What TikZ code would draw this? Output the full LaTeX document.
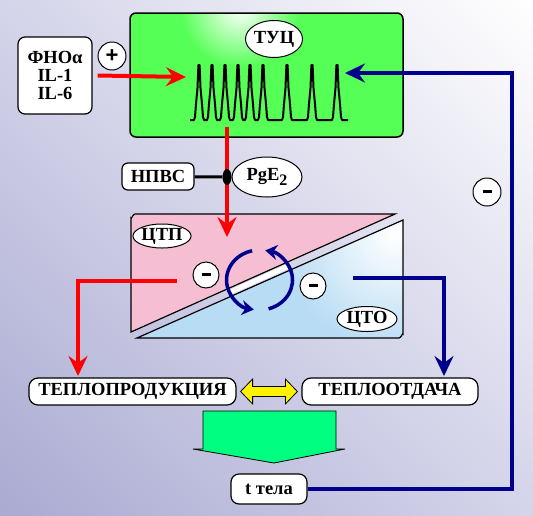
\documentclass[tikz,border=0pt]{standalone}
\usepackage{fontspec}
\setmainfont{Liberation Serif}
\newfontfamily\signfont{Liberation Sans}
\usetikzlibrary{arrows.meta,shapes.geometric,calc,shadings}
\definecolor{bgdark}{RGB}{170,170,210}
\definecolor{bgmid}{RGB}{212,212,234}
\definecolor{tucgreen}{RGB}{85,255,85}
\definecolor{ctppink}{RGB}{246,190,210}
\definecolor{ctoblue}{RGB}{184,220,244}
\definecolor{arrred}{RGB}{255,0,0}
\definecolor{arrblue}{RGB}{0,0,140}
\definecolor{outgreen}{RGB}{0,255,128}
\begin{document}
\begin{tikzpicture}[x=1pt,y=-1pt,
  font=\fontsize{18.5}{18}\selectfont\bfseries,
  lbl/.style={draw, line width=1.2pt, fill=white, rounded corners=7pt, inner sep=0pt, align=center},
  oval/.style={ellipse, draw, line width=1pt, fill=white, inner sep=0pt},
  sgn/.style={circle, draw, line width=1pt, fill=white, inner sep=0pt},
  redarr/.style={draw=arrred, line width=4pt, -{Stealth[length=20pt,width=19pt,inset=7pt]}},
  bluarr/.style={draw=arrblue, line width=4pt, -{Stealth[length=20pt,width=19pt,inset=7pt]}},
  rotarr/.style={draw=arrblue, line width=3.5pt, -{Stealth[length=12pt,width=15pt,inset=4pt]}}]
\useasboundingbox (0,0) rectangle (533,515);
\shade[upper left=bgmid, upper right=white, lower left=bgdark, lower right=bgmid] (0,0) rectangle (533,515);

\begin{scope}
\clip[rounded corners=6pt] (130,13) rectangle (403,137);
\fill[tucgreen] (130,13) rectangle (403,137);
\shade[inner color=white, outer color=tucgreen] (240,8) circle (60pt);
\end{scope}
\draw[line width=1.5pt, rounded corners=6pt] (130,13) rectangle (403,137);
\draw[line width=2pt, line join=round] (190,120)
  foreach \p in {199,212,225,238,250,263,287,312,337}
  { -- ({\p-5},120) -- ({\p-4},117) -- ({\p-3},104) -- ({\p-1.5},88) -- ({\p-0.6},65) -- ({\p+0.6},65) -- ({\p+1.5},88) -- ({\p+3},104) -- ({\p+4},117) -- ({\p+5},120) }
  -- (348,120);

\draw[white, line width=5pt] (228,293.1) -- (290,265.5);
\draw[line width=1.2pt, fill=ctppink] (131,332) -- (131,218) to[out=-90,in=180] (135,214) -- (395,214) -- cycle;
\begin{scope}
\clip (137,338) -- (403,338) -- (403,220) -- cycle;
\fill[ctoblue] (137,338) rectangle (403,220);
\shade[inner color=white, outer color=ctoblue] (395,235) circle (115pt);
\end{scope}
\draw[line width=1.2pt] (137,338) -- (399,338) to[out=0,in=90] (403,334) -- (403,220) -- cycle;

\coordinate (wavel) at (186,77);
\coordinate (waver) at (345,73);
\coordinate (fbc) at (512,73);
\coordinate (tucout) at (227,127);
\coordinate (ctpin) at (227,237);
\coordinate (ctpout) at (177,281);
\coordinate (prodin) at (78,376);
\coordinate (ctoout) at (353,278);
\coordinate (otdin) at (444,376);
\draw[redarr] (tucout) -- (ctpin);

\node[lbl, minimum width=74pt, minimum height=77pt] (fno) at (55,75.5) {ФНОα\\IL-1\\IL-6};
\node[sgn, minimum size=28pt] (plus) at (112,56) {\signfont\fontsize{22}{22}\selectfont+};
\node[oval, minimum width=53pt, minimum height=37pt] (tuc) at (274,39) {ТУЦ};
\node[lbl, rounded corners=6pt, minimum width=72pt, minimum height=27pt] (npvs) at (158,176.5) {НПВС};
\node[ellipse, fill=black, minimum width=9pt, minimum height=16pt, inner sep=0pt] (jn) at (227,177) {};
\node[oval, minimum width=70pt, minimum height=40pt] (pge) at (267,177) {PgE\raisebox{-5pt}{\fontsize{16}{16}\selectfont 2}};
\node[oval, minimum width=57pt, minimum height=24pt] (ctp) at (162,236) {ЦТП};
\node[oval, minimum width=60pt, minimum height=25pt] (cto) at (367,319) {ЦТО};
\node[sgn, minimum size=26pt] (mnsl) at (206,275) {\rule[2pt]{9pt}{3pt}};
\node[sgn, minimum size=26pt] (mnsr) at (313,286) {\rule[2pt]{9pt}{3pt}};
\node[sgn, minimum size=28pt] (mnsfb) at (487,192) {\rule[2pt]{9pt}{3pt}};
\node[lbl, rounded corners=9pt, minimum width=207pt, minimum height=27pt] (prod) at (132.5,391.5) {ТЕПЛОПРОДУКЦИЯ};
\node[lbl, rounded corners=9pt, minimum width=176pt, minimum height=27pt] (otd) at (390,391.5) {ТЕПЛООТДАЧА};
\node[lbl, rounded corners=8pt, minimum width=76pt, minimum height=30pt] (tela) at (269,489) {t тела};

\draw[redarr] ([xshift=5pt]fno.east) -- (wavel);
\draw[bluarr] (tela.east) -| (fbc) -- (waver);
\draw[line width=3pt] (npvs) -- (jn);
\draw[redarr] (ctpout) -| (prodin);
\draw[bluarr] (ctoout) -| (otdin);
\draw[rotarr] (252.1,250.8) arc[start angle=257, end angle=100, x radius=33, y radius=30];
\draw[rotarr] (268.6,308.8) arc[start angle=74, end angle=-80, x radius=33, y radius=30];

\coordinate (ya) at ([xshift=4pt]prod.east);
\coordinate (yb) at ([xshift=-4pt]otd.west);
\draw[line width=0.8pt, fill=yellow] (ya) -- ++(12,-12.5) -- ++(0,7.5) -- ($(yb)+(-12,-5)$) -- ++(0,-7.5) -- (yb) -- ++(-12,12.5) -- ++(0,-7.5) -- ($(ya)+(12,5)$) -- ++(0,7.5) -- cycle;
\draw[line width=0.8pt, fill=outgreen] (203,411) -- (336,411) -- (336,449) -- (345,449) -- (274,463) -- (193,449) -- (203,449) -- cycle;
\end{tikzpicture}
\end{document}
